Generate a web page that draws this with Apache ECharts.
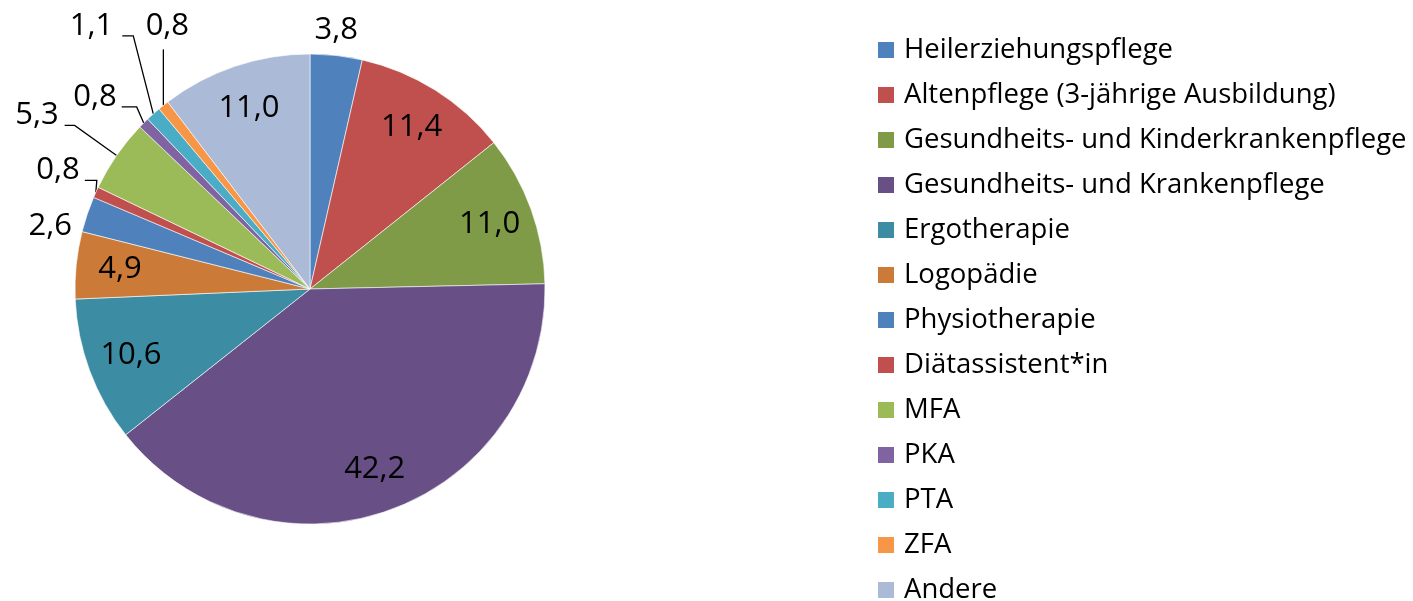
<!DOCTYPE html>
<html>
<head>
<meta charset="utf-8">
<script src="https://cdn.jsdelivr.net/npm/echarts@6/dist/echarts.min.js"></script>
<style>
html,body{margin:0;padding:0;background:#fff;}
#chart{width:1413px;height:601px;}
</style>
</head>
<body>
<div id="chart"></div>
<script>
// ---- data ----
const categories = [
  'Heilerziehungspflege',
  'Altenpflege (3-jährige Ausbildung)',
  'Gesundheits- und Kinderkrankenpflege',
  'Gesundheits- und Krankenpflege',
  'Ergotherapie',
  'Logopädie',
  'Physiotherapie',
  'Diätassistent*in',
  'MFA',
  'PKA',
  'PTA',
  'ZFA',
  'Andere'
];
const values = [3.8, 11.4, 11.0, 42.2, 10.6, 4.9, 2.6, 0.8, 5.3, 0.8, 1.1, 0.8, 11.0];

// ---- styles ----
const colors = ['#4F81BD','#C0504D','#7F9B48','#684F86','#3C8DA3','#CC7A37',
                '#4F81BD','#C0504D','#9BBB59','#8064A2','#4BACC6','#F79646','#AABAD7'];
const insideIdx = [1, 2, 3, 4, 5, 12];
// outside label guides: elbow offset from slice edge, horizontal run, label offset
const outsideGuide = {
  0:  {elbow: null, run: 0, label: [0, -25], align: 'center'},
  6:  {elbow: null, run: 0, label: [-37, 12], align: 'center'},
  7:  {elbow: [1, -12], run: 12, label: [-5, -10], align: 'right'},
  8:  {elbow: [-42, -30], run: 10, label: [-6, -10], align: 'right'},
  9:  {elbow: [-7, -16], run: 15, label: [-5, -10], align: 'right'},
  10: {elbow: [-20, -78], run: 11, label: [-9, -10], align: 'right'},
  11: {elbow: [0, -56], run: 0, label: [4, -23], align: 'center'}
};
const FONT = '"Open Sans", "Noto Sans", sans-serif';
const CENTER = [310, 289];
const R = 235;

const fmt = v => v.toFixed(1).replace('.', ',');

const chart = echarts.init(document.getElementById('chart'), null, {renderer: 'canvas'});

const mainData = categories.map((n, i) => ({
  name: n, value: values[i],
  itemStyle: {color: colors[i]},
  label: {show: outsideGuide[i] !== undefined}
}));
const ringData = categories.map((n, i) => ({
  name: n, value: values[i],
  label: {show: insideIdx.indexOf(i) >= 0}
}));

chart.setOption({
  animation: false,
  textStyle: {fontFamily: FONT},
  legend: {
    orient: 'vertical',
    left: 876, top: 36,
    height: 600,
    padding: 0,
    itemWidth: 18, itemHeight: 18, itemGap: 17,
    icon: 'rect',
    selectedMode: false,
    data: categories,
    textStyle: {fontFamily: FONT, fontSize: 27.5, color: '#000', padding: [0, 0, 0, 4]}
  },
  series: [
    {
      type: 'pie',
      center: CENTER,
      radius: [0, R],
      startAngle: 90,
      clockwise: true,
      avoidLabelOverlap: false,
      silent: true,
      itemStyle: {borderColor: '#ffffff', borderWidth: 0.6},
      label: {
        position: 'outside',
        fontFamily: FONT, fontSize: 31, color: '#000',
        formatter: p => fmt(p.value)
      },
      labelLine: {show: true, length: 10, length2: 10, smooth: false,
                  lineStyle: {color: '#000', width: 1.3}},
      labelLayout: function (params) {
        const g = outsideGuide[params.dataIndex];
        if (!g || !params.labelLinePoints) return {};
        const e = params.labelLinePoints[0];
        let pts, end;
        if (g.elbow) {
          const el = [e[0] + g.elbow[0], e[1] + g.elbow[1]];
          end = [el[0] - g.run, el[1]];
          pts = [e, el, end];
        } else {
          end = e;
          pts = [e, e];
        }
        return {
          x: end[0] + g.label[0],
          y: end[1] + g.label[1],
          align: g.align,
          verticalAlign: 'middle',
          labelLinePoints: pts
        };
      },
      data: mainData
    },
    {
      type: 'pie',
      center: CENTER,
      radius: [R * 0.6, R],
      startAngle: 90,
      clockwise: true,
      silent: true,
      avoidLabelOverlap: false,
      itemStyle: {color: 'rgba(0,0,0,0)', borderWidth: 0},
      label: {
        position: 'inside',
        fontFamily: FONT, fontSize: 31, color: '#000',
        formatter: p => fmt(p.value)
      },
      labelLine: {show: false},
      emphasis: {disabled: true},
      data: ringData
    }
  ]
});
</script>
</body>
</html>
